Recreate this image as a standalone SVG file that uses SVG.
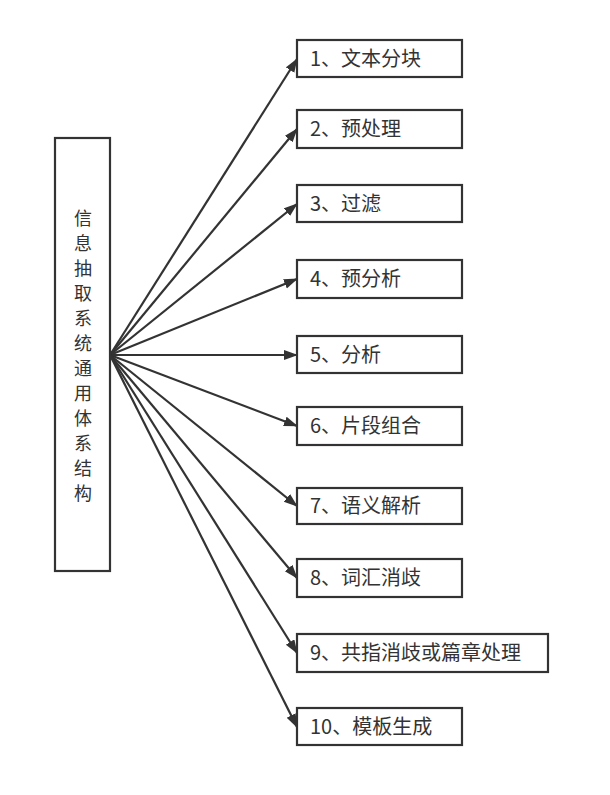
<svg xmlns="http://www.w3.org/2000/svg" width="610" height="795" viewBox="0 0 610 795">
<style>
.box{fill:#fff;stroke:#333;stroke-width:2.2}
.lbl{font-family:"Noto Sans CJK SC","Liberation Sans",sans-serif;font-size:20px;fill:#333}
.vlbl{font-family:"Noto Sans CJK SC","Liberation Sans",sans-serif;font-size:18px;fill:#333}
.conn line{stroke:#333;stroke-width:2.2;marker-end:url(#arr)}
</style>
<defs>
<marker id="arr" markerUnits="userSpaceOnUse" markerWidth="14" markerHeight="12" refX="13" refY="5" orient="auto">
<path d="M0,0 L14,5 L0,10 z" fill="#333"/>
</marker>
</defs>
<rect width="610" height="795" fill="#fff"/>
<g id="connectors" class="conn">
<line x1="110" y1="355" x2="297" y2="59"/>
<line x1="110" y1="355" x2="297" y2="129"/>
<line x1="110" y1="355" x2="297" y2="204"/>
<line x1="110" y1="355" x2="297" y2="279"/>
<line x1="110" y1="355" x2="297" y2="355"/>
<line x1="110" y1="355" x2="297" y2="426"/>
<line x1="110" y1="355" x2="297" y2="506"/>
<line x1="110" y1="355" x2="297" y2="578"/>
<line x1="110" y1="355" x2="297" y2="653"/>
<line x1="110" y1="355" x2="297" y2="727"/>
</g>
<g id="root">
<rect class="box" x="55" y="138" width="55" height="433"/>
<text class="vlbl" text-anchor="middle"><tspan x="83" y="225">信</tspan><tspan x="83" y="250">息</tspan><tspan x="83" y="275">抽</tspan><tspan x="83" y="300">取</tspan><tspan x="83" y="325">系</tspan><tspan x="83" y="350">统</tspan><tspan x="83" y="375">通</tspan><tspan x="83" y="400">用</tspan><tspan x="83" y="425">体</tspan><tspan x="83" y="450">系</tspan><tspan x="83" y="475">结</tspan><tspan x="83" y="500">构</tspan></text>
</g>
<g id="n1"><rect class="box" x="297" y="40" width="165" height="37"/><text class="lbl" x="310" y="66">1、文本分块</text></g>
<g id="n2"><rect class="box" x="297" y="110" width="165" height="38"/><text class="lbl" x="310" y="136">2、预处理</text></g>
<g id="n3"><rect class="box" x="297" y="185" width="165" height="37"/><text class="lbl" x="310" y="211">3、过滤</text></g>
<g id="n4"><rect class="box" x="297" y="260" width="165" height="38"/><text class="lbl" x="310" y="286">4、预分析</text></g>
<g id="n5"><rect class="box" x="297" y="336" width="165" height="37"/><text class="lbl" x="310" y="362">5、分析</text></g>
<g id="n6"><rect class="box" x="297" y="407" width="165" height="38"/><text class="lbl" x="310" y="433">6、片段组合</text></g>
<g id="n7"><rect class="box" x="297" y="488" width="165" height="36"/><text class="lbl" x="310" y="513">7、语义解析</text></g>
<g id="n8"><rect class="box" x="297" y="559" width="165" height="38"/><text class="lbl" x="310" y="585">8、词汇消歧</text></g>
<g id="n9"><rect class="box" x="297" y="634" width="251" height="38"/><text class="lbl" x="310" y="660">9、共指消歧或篇章处理</text></g>
<g id="n10"><rect class="box" x="297" y="708" width="165" height="37"/><text class="lbl" x="310" y="734">10、模板生成</text></g>
</svg>
